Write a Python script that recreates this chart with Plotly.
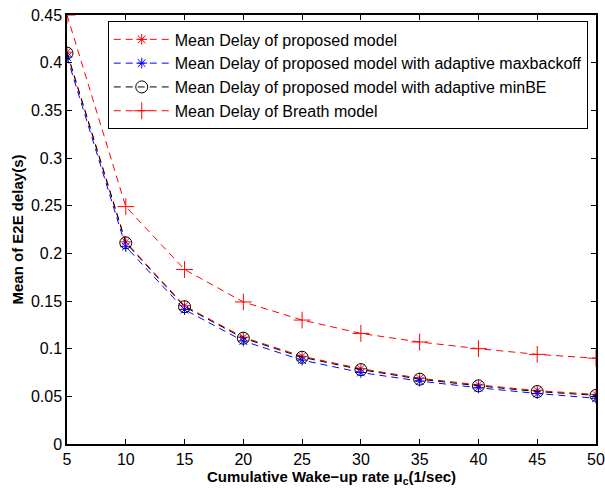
import plotly.graph_objects as go

x = [5, 10, 15, 20, 25, 30, 35, 40, 45, 50]
proposed = [0.411, 0.212, 0.145, 0.112, 0.092, 0.079, 0.069, 0.062, 0.056, 0.052]
maxbackoff = [0.406, 0.207, 0.141, 0.108, 0.088, 0.075, 0.066, 0.059, 0.053, 0.048]
minbe = [0.410, 0.211, 0.144, 0.111, 0.091, 0.078, 0.068, 0.061, 0.055, 0.051]
breath = [0.450, 0.249, 0.183, 0.149, 0.130, 0.116, 0.107, 0.100, 0.094, 0.090]
names = ["Mean Delay of proposed model",
         "Mean Delay of proposed model with adaptive maxbackoff",
         "Mean Delay of proposed model with adaptive minBE",
         "Mean Delay of Breath model"]
xticks = [5, 10, 15, 20, 25, 30, 35, 40, 45, 50]
yticks = [0, 0.05, 0.1, 0.15, 0.2, 0.25, 0.3, 0.35, 0.4, 0.45]

FONT = "Liberation Sans, Arial, Helvetica"
fig = go.Figure()
dash = "7px,5px"
fig.add_trace(go.Scatter(x=x, y=proposed, name=names[0], mode="lines+markers",
                         line=dict(color="red", width=1, dash=dash),
                         marker=dict(symbol="asterisk-open", size=9, color="red", line=dict(width=1, color="red"))))
fig.add_trace(go.Scatter(x=x, y=maxbackoff, name=names[1], mode="lines+markers",
                         line=dict(color="blue", width=1, dash=dash),
                         marker=dict(symbol="asterisk-open", size=9, color="blue", line=dict(width=1, color="blue"))))
fig.add_trace(go.Scatter(x=x, y=minbe, name=names[2], mode="lines+markers",
                         line=dict(color="black", width=1, dash=dash),
                         marker=dict(symbol="circle-open", size=12, color="black", line=dict(width=1, color="black"))))
fig.add_trace(go.Scatter(x=x, y=breath, name=names[3], mode="lines+markers",
                         line=dict(color="red", width=1, dash=dash),
                         marker=dict(symbol="cross-thin-open", size=12, color="red", line=dict(width=1, color="red"))))

axis_common = dict(showline=True, mirror="ticks", linecolor="black", linewidth=1.5,
                   ticks="inside", ticklen=5, tickcolor="black", showgrid=False, zeroline=False,
                   ticklabeloverflow="allow",
                   tickfont=dict(family=FONT, size=16, color="black"))
fig.update_layout(
    width=605, height=489,
    margin=dict(l=67, r=9, t=15, b=45, autoexpand=False),
    paper_bgcolor="white", plot_bgcolor="white",
    font=dict(family=FONT, color="black"),
    xaxis=dict(range=[5, 50], tickvals=xticks, ticktext=[str(t) for t in xticks],
               title=dict(text="<b>Cumulative Wake−up rate μ<sub>c</sub>(1/sec)</b>", font=dict(size=15), standoff=1),
               automargin=False, **axis_common),
    yaxis=dict(range=[0, 0.45], tickvals=yticks, ticktext=[f"{t:g}" for t in yticks],
               title=dict(text="<b>Mean of E2E delay(s)</b>", font=dict(size=15), standoff=4),
               automargin=False, **axis_common),
    legend=dict(x=0.077, y=0.985, xanchor="left", yanchor="top",
                bgcolor="white", bordercolor="black", borderwidth=1,
                font=dict(family=FONT, size=16, color="black"),
                tracegroupgap=0, itemwidth=56),
    showlegend=True,
)
fig.write_html("out.html")
